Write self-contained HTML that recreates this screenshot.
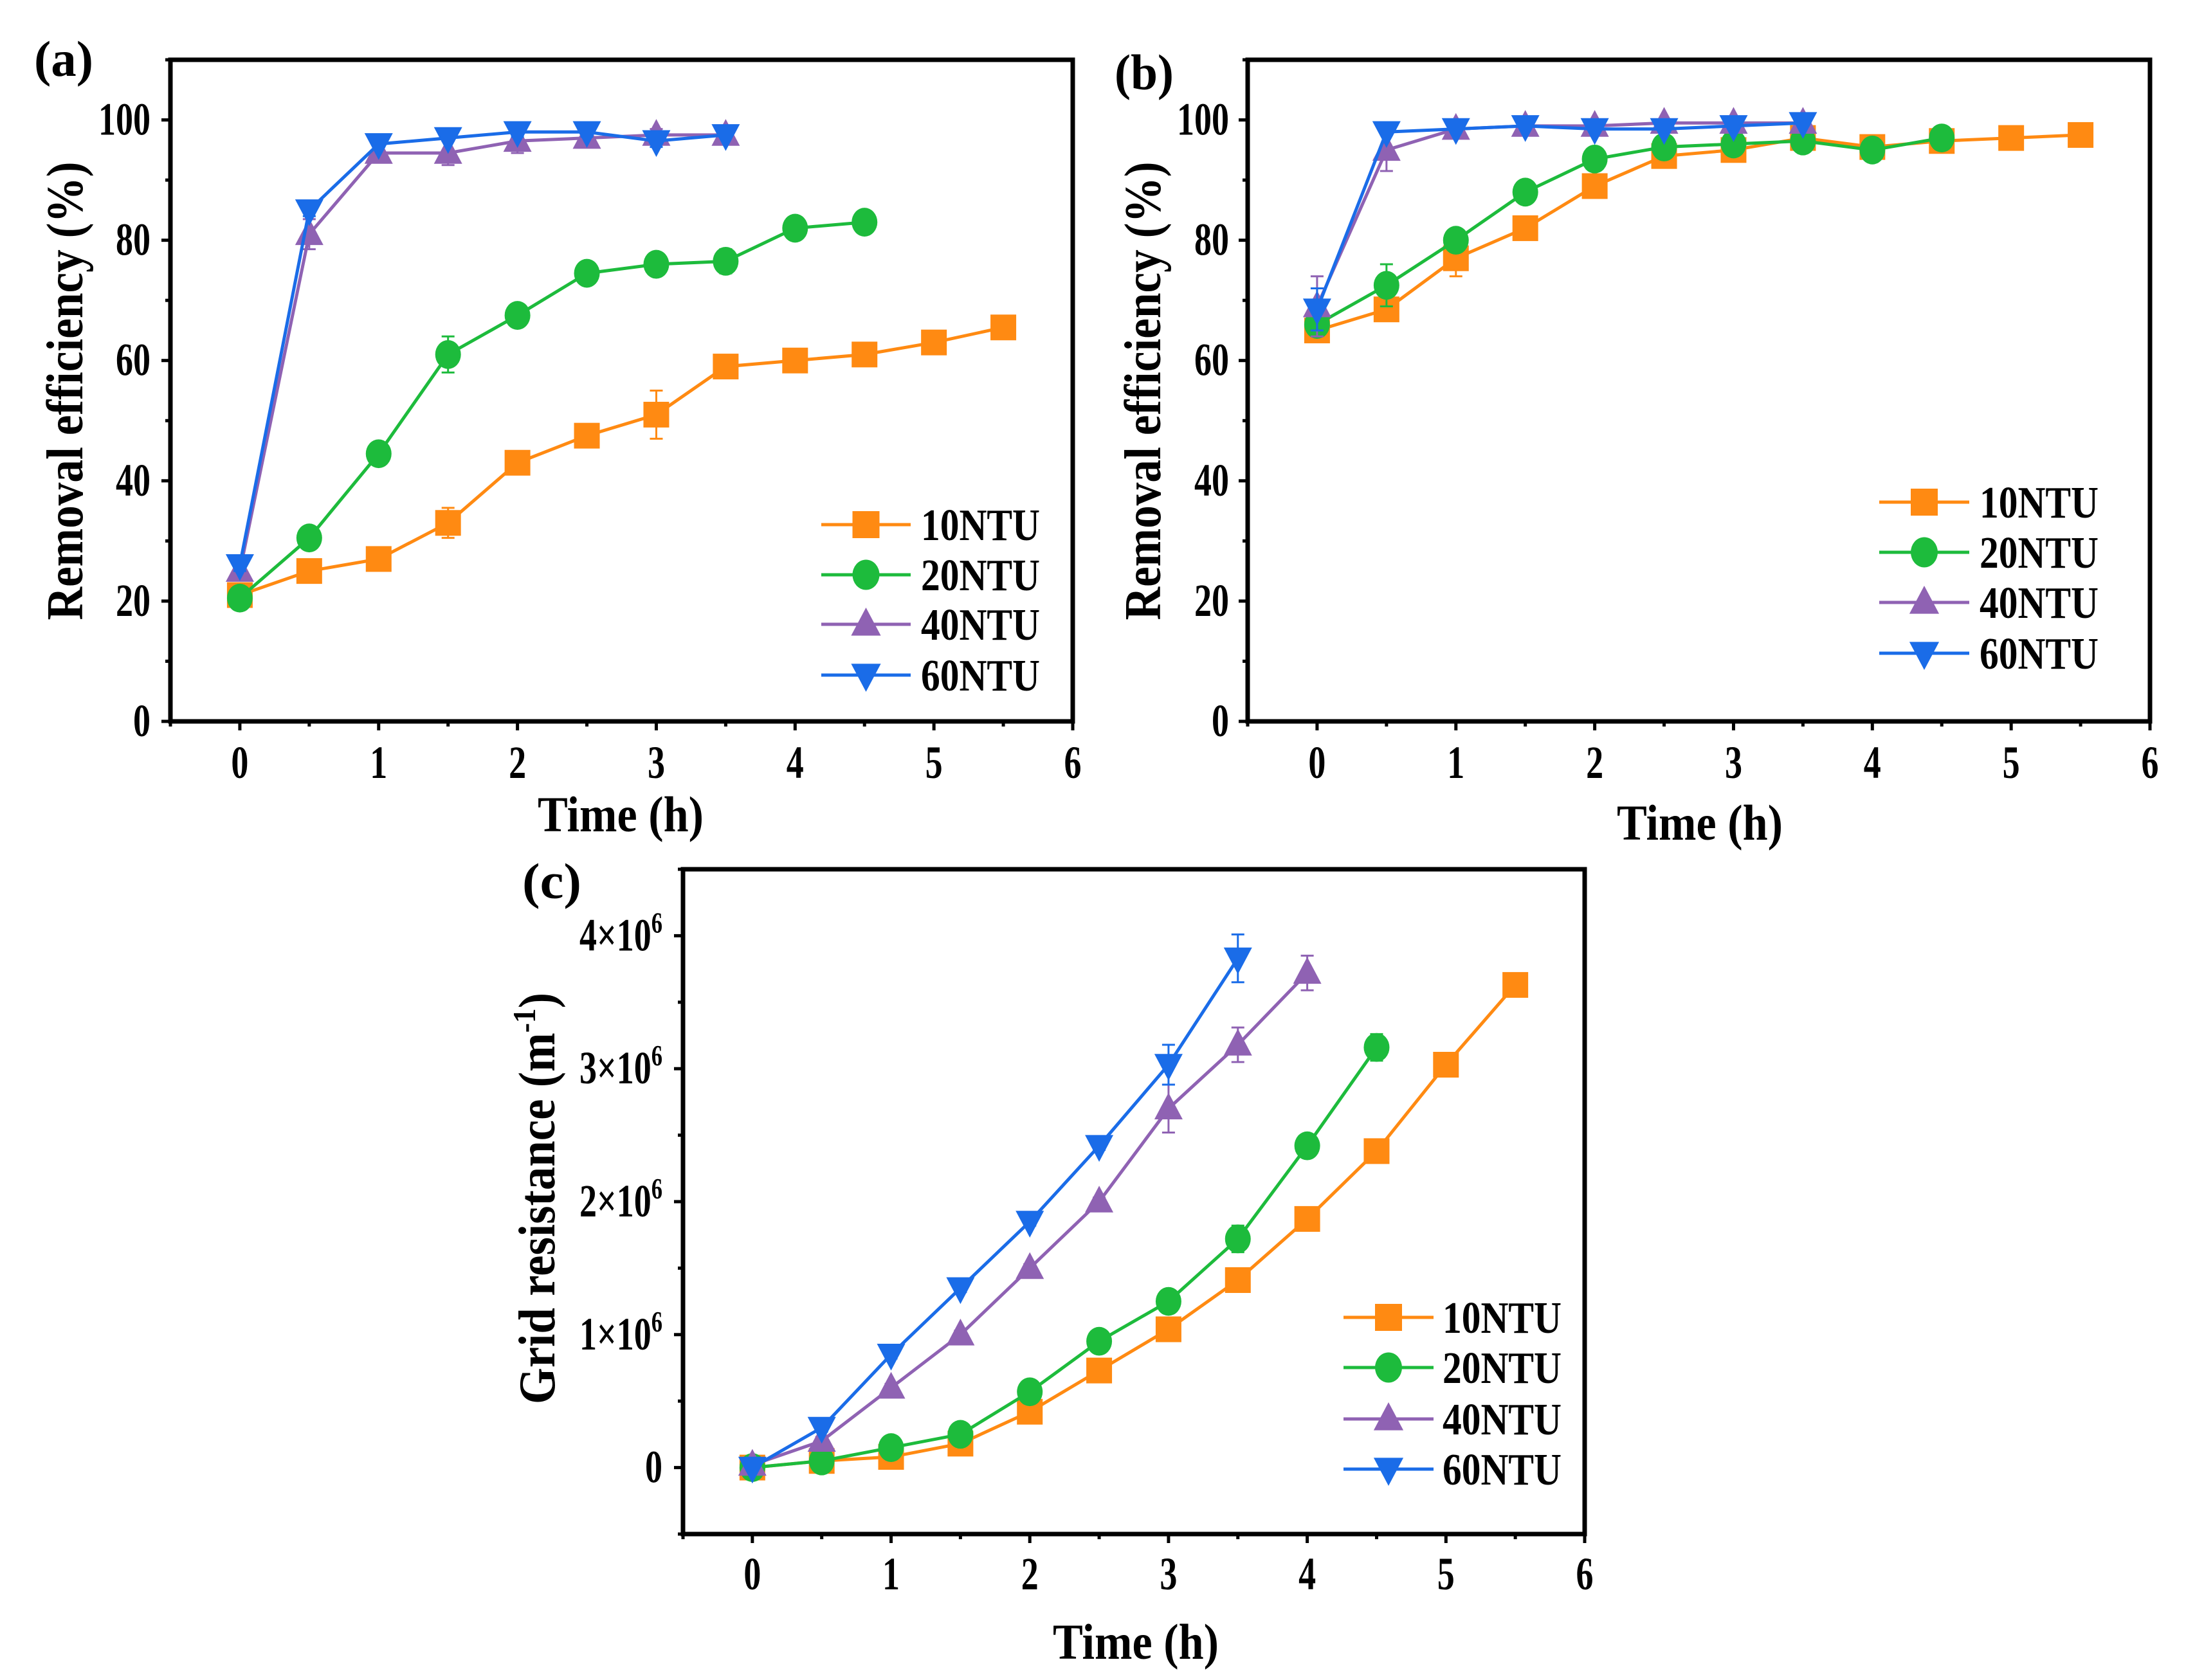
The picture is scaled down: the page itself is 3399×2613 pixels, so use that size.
<!DOCTYPE html>
<html><head><meta charset="utf-8"><style>
html,body{margin:0;padding:0;background:#fff}
svg{display:block}
text{font-family:"Liberation Serif",serif;font-weight:bold;fill:#000}
</style></head><body>
<svg id="fig" width="3399" height="2613" viewBox="0 0 3399 2613" xmlns="http://www.w3.org/2000/svg"></svg>
<script>
const seriesNames = ["10NTU","20NTU","40NTU","60NTU"];
const colors = ["#ff8a12","#1dbb3c","#8f62b3","#1a6ce8"];
const markers = ["square","circle","triangle","triangle-down"];
const timeA10 = [0,0.5,1,1.5,2,2.5,3,3.5,4,4.5,5,5.5];
const timeA20 = [0,0.5,1,1.5,2,2.5,3,3.5,4,4.5];
const timeA40 = [0,0.5,1,1.5,2,2.5,3,3.5];
const timeC40 = [0,0.5,1,1.5,2,2.5,3,3.5,4];
const a10 = [21,25,27,33,43,47.5,51,59,60,61,63,65.5];
const a10err = [1,0.5,0.5,2.5,0.8,0.8,4,0.8,0.5,0.5,0.5,0.5];
const a20 = [20.5,30.5,44.5,61,67.5,74.5,76,76.5,82,83];
const a20err = [0.8,0.5,0.5,3,0.5,0.5,0.5,2,0.5,0.5];
const a40 = [25,81,94.5,94.5,96.5,97,97.5,97.5];
const a40err = [1,2.5,1,2,2,1.5,1,1];
const a60 = [26,85,96,97,98,98,96.5,97.5];
const a60err = [1,1,0.5,0.5,0.8,0.8,1,0.5];
const b10 = [65,68.5,77,82,89,94,95,97,95.5,96.5,97,97.5];
const b10err = [1,1.5,3,0.5,0.5,0.5,1,0.5,0.5,0.5,0.5,0.5];
const b20 = [66,72.5,80,88,93.5,95.5,96,96.5,95,97];
const b20err = [1,3.5,1,0.5,0.5,1,1,0.8,1,0.5];
const b40 = [69,95,98.5,99,99,99.5,99.5,99.5];
const b40err = [5,3.5,0.5,0.5,0.5,0.5,0.5,0.5];
const b60 = [68.5,98,98.5,99,98.5,98.5,99,99.5];
const b60err = [3.5,0.5,0.5,0.5,0.5,0.5,0.5,0.5];
const c10 = [0,0.05,0.08,0.18,0.42,0.73,1.04,1.41,1.87,2.38,3.03,3.63];
const c10err = [0.02,0.02,0.02,0.02,0.02,0.03,0.03,0.03,0.03,0.03,0.03,0.03];
const c20 = [0,0.05,0.15,0.25,0.57,0.95,1.25,1.72,2.42,3.16];
const c20err = [0.02,0.02,0.03,0.03,0.03,0.03,0.03,0.1,0.03,0.1];
const c40 = [0.02,0.2,0.6,1.0,1.5,2.0,2.7,3.18,3.72];
const c40err = [0.02,0.03,0.03,0.03,0.03,0.03,0.18,0.13,0.13];
const c60 = [0,0.3,0.85,1.35,1.85,2.42,3.03,3.83];
const c60err = [0.02,0.03,0.03,0.03,0.03,0.03,0.15,0.18];
const xTicks = [0,1,2,3,4,5,6];
const yTicksAB = [0,20,40,60,80,100];
const yTicksC = [0,1,2,3,4];

const NS="http://www.w3.org/2000/svg";
const svg=document.getElementById('fig');
function mk(tag,attrs,parent){const e=document.createElementNS(NS,tag);for(const k in attrs)e.setAttribute(k,attrs[k]);(parent||svg).appendChild(e);return e;}

function marker(g,type,x,y,col,s){
  let e;
  if(type==="square"){e=mk('rect',{x:x-s/2,y:y-s/2,width:s,height:s,fill:col},g);}
  else if(type==="circle"){e=mk('ellipse',{cx:x,cy:y,rx:s*0.5,ry:s*0.56,fill:col},g);}
  else if(type==="triangle"){e=mk('polygon',{points:`${x},${y-s*0.62} ${x-s*0.55},${y+s*0.42} ${x+s*0.55},${y+s*0.42}`,fill:col},g);}
  else {e=mk('polygon',{points:`${x},${y+s*0.62} ${x-s*0.55},${y-s*0.42} ${x+s*0.55},${y-s*0.42}`,fill:col},g);}
  
  
  return e;
}

function panel(p){
  const g=mk('g',{});
  
  
  const X=v=>p.L+(v-p.xmin)/(p.xmax-p.xmin)*(p.R-p.L);
  const Y=v=>p.B-(v-p.ymin)/(p.ymax-p.ymin)*(p.B-p.T);
  const tk=mk('g',{stroke:'#000','stroke-width':5},g);
  
  
  for(let v=p.xmin;v<=p.xmax+1e-9;v+=0.5){
    const major=Math.abs(v-Math.round(v))<1e-9;
    mk('line',{x1:X(v),x2:X(v),y1:p.B,y2:p.B+(major?14:8)},tk);
  }
  for(let v=p.ymin;v<=p.ymax+1e-9;v+=p.yminor){
    const major=Math.abs(v/p.ymajor-Math.round(v/p.ymajor))<1e-9;
    mk('line',{x1:p.L,x2:p.L-(major?14:8),y1:Y(v),y2:Y(v)},tk);
  }
  xTicks.forEach(v=>{
    const t=mk('text',{transform:`translate(${X(v)},${p.xlabY}) scale(0.75,1)`,'text-anchor':'middle','font-size':72},g);
    t.textContent=v;
    
    
  });
  p.yTicks.forEach(v=>{
    const t=mk('text',{transform:`translate(${p.ylabR},${Y(p.yscale*v)+23}) scale(0.75,1)`,'text-anchor':'end','font-size':72},g);
    if(p.sci && v!==0){
      t.appendChild(document.createTextNode(v+'\u00d710'));
      const s=mk('tspan',{'font-size':46,dy:-28},t);s.textContent='6';
    } else t.textContent=(v*p.yscale===0?0:v);
    
    
  });
  p.series.forEach((s,i)=>{
    const sg=mk('g',{},g);
    
    
    const pts=s.t.map((t,j)=>X(t)+','+Y(s.v[j])).join(' ');
    const pl=mk('polyline',{points:pts,fill:'none',stroke:colors[i],'stroke-width':5},sg);
    
    
    s.t.forEach((t,j)=>{
      const x=X(t),y1=Y(s.v[j]-s.e[j]),y2=Y(s.v[j]+s.e[j]);
      const eb=mk('path',{d:`M${x},${y1}V${y2}M${x-10},${y1}H${x+10}M${x-10},${y2}H${x+10}`,stroke:colors[i],'stroke-width':3,fill:'none'},sg);
      
      
    });
    s.t.forEach((t,j)=>marker(sg,markers[i],X(t),Y(s.v[j]),colors[i],40));
  });
  const fr=mk('rect',{x:p.L,y:p.T,width:p.R-p.L,height:p.B-p.T,fill:'none',stroke:'#000','stroke-width':7},g);
  
  
  p.legY.forEach((ly,i)=>{
    const lg=mk('g',{},g);
    
    
    mk('line',{x1:p.legX1,x2:p.legX2,y1:ly,y2:ly,stroke:colors[i],'stroke-width':5},lg);
    marker(lg,markers[i],(p.legX1+p.legX2)/2,ly,colors[i],42);
    const t=mk('text',{x:p.legT,y:ly+24,'font-size':70,textLength:185,lengthAdjust:'spacingAndGlyphs'},lg);
    t.textContent=seriesNames[i];
  });
  const xt=mk('text',{x:p.xtX,y:p.xtY,'text-anchor':'middle','font-size':78,textLength:258,lengthAdjust:'spacingAndGlyphs'},g);
  xt.textContent='Time (h)';
  
  
  const yt=mk('text',{transform:`translate(${p.ytX},${p.ytY}) rotate(-90)`,'text-anchor':'middle','font-size':80,textLength:p.ytLen,lengthAdjust:'spacingAndGlyphs'},g);
  if(p.sci){yt.appendChild(document.createTextNode('Grid resistance (m'));const s=mk('tspan',{'font-size':50,dy:-30},yt);s.textContent='-1';const s2=mk('tspan',{dy:30},yt);s2.textContent=')';}
  else yt.textContent='Removal efficiency (%)';
  
  
  const pl=mk('text',{x:p.plX,y:p.plY,'font-size':78,textLength:92,lengthAdjust:'spacingAndGlyphs'},g);
  pl.textContent=p.label;
  
  
}

panel({name:'panel-a',label:'(a)',L:265,R:1668,T:93,B:1122,xmin:-0.5,xmax:6,ymin:0,ymax:110,ymajor:20,yminor:10,yscale:1,yTicks:yTicksAB,
 xlabY:1210,ylabR:234,legY:[816,894,971,1050],legX1:1277,legX2:1416,legT:1432,xtX:965,xtY:1293,ytX:128,ytY:608,ytLen:713,plX:53,plY:118,
 series:[{t:timeA10,v:a10,e:a10err},{t:timeA20,v:a20,e:a20err},{t:timeA40,v:a40,e:a40err},{t:timeA40,v:a60,e:a60err}]});
panel({name:'panel-b',label:'(b)',L:1940,R:3343,T:93,B:1122,xmin:-0.5,xmax:6,ymin:0,ymax:110,ymajor:20,yminor:10,yscale:1,yTicks:yTicksAB,
 xlabY:1210,ylabR:1911,legY:[781,859,937,1016],legX1:2922,legX2:3062,legT:3078,xtX:2643,xtY:1306,ytX:1804,ytY:608,ytLen:713,plX:1733,plY:139,
 series:[{t:timeA10,v:b10,e:b10err},{t:timeA20,v:b20,e:b20err},{t:timeA40,v:b40,e:b40err},{t:timeA40,v:b60,e:b60err}]});
panel({name:'panel-c',label:'(c)',L:1062,R:2464,T:1352,B:2386,xmin:-0.5,xmax:6,ymin:-0.5,ymax:4.5,ymajor:1,yminor:0.5,yscale:1,yTicks:yTicksC,sci:true,
 xlabY:2472,ylabR:1030,legY:[2049,2127,2207,2285],legX1:2089,legX2:2229,legT:2243,xtX:1766,xtY:2580,ytX:862,ytY:1864,ytLen:640,plX:812,plY:1397,
 series:[{t:timeA10,v:c10,e:c10err},{t:timeA20,v:c20,e:c20err},{t:timeC40,v:c40,e:c40err},{t:timeA40,v:c60,e:c60err}]});
</script>
</body></html>
